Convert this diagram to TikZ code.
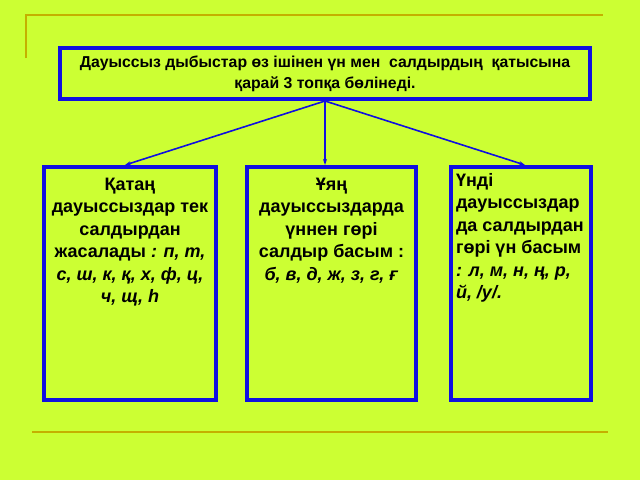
\documentclass[tikz,border=0pt]{standalone}
\usepackage{fontspec}
\setmainfont{Liberation Sans}
\usetikzlibrary{arrows.meta}

\definecolor{bg}{HTML}{CCFF33}
\definecolor{boxblue}{HTML}{1010E0}
\definecolor{rulegold}{HTML}{C4B000}

\tikzset{
  box/.style={draw=boxblue, line width=4pt, inner sep=0pt, font=\bfseries},
  link/.style={-{Stealth[length=6pt,width=4pt]}, draw=boxblue, line width=1.6pt},
  rule/.style={draw=rulegold, line width=1.6pt}
}

\begin{document}
\begin{tikzpicture}[x=1pt,y=-1pt]
  \fill[bg] (0,0) rectangle (640,480);

  \draw[rule] (26,58) -- (26,15) -- (603,15);
  \draw[rule] (32,432) -- (608,432);

  \node[box, minimum width=530pt, minimum height=51pt, align=center,
        font=\bfseries\fontsize{15.8}{21}\selectfont] (top) at (325,73.5)
    {Дауыссыз дыбыстар өз ішінен үн мен~~салдырдың~~қатысына\\қарай 3 топқа бөлінеді.};

  \node[box] (left) at (130,283.5) {\parbox[c][233pt][t]{172pt}{\centering
    \fontsize{18}{22.5}\selectfont\vspace*{11pt}
    Қатаң\\ дауыссыздар тек\\ салдырдан\\ жасалады \textit{: п, т,}\\
    \textit{с, ш, к, қ, х, ф, ц,}\\ \textit{ч, щ, һ}}};
  \node[box] (mid) at (331.5,283.5) {\parbox[c][233pt][t]{169pt}{\centering
    \fontsize{18}{22.5}\selectfont\vspace*{11pt}
    Ұяң\\ дауыссыздарда\\ үннен гөрі\\ салдыр басым :\\
    \textit{б, в, д, ж, з, г, ғ}}};
  \node[box] (right) at (521,283.5) {\parbox[c][233pt][t]{140pt}{\raggedright
    \leftskip=5pt\fontsize{18}{22.5}\selectfont\vspace*{6pt}
    Үнді\\ дауыссыздар\\ да салдырдан\\ гөрі үн басым\\
    \textit{: л, м, н, ң, р,}\\ \textit{й, /у/.}}};

  \draw[link] (top.south) -- ([xshift=-5pt]left.north);
  \draw[link] (top.south) -- ([xshift=-6.5pt]mid.north);
  \draw[link] (top.south) -- ([xshift=4pt]right.north);
\end{tikzpicture}
\end{document}
